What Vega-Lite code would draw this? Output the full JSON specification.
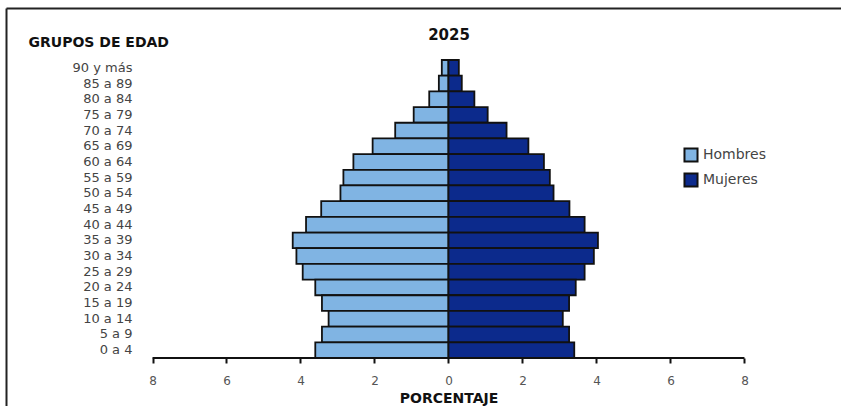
{
  "$schema": "https://vega.github.io/schema/vega-lite/v6.json",
  "width": 835,
  "height": 398,
  "autosize": {"type": "none"},
  "padding": {"left": 6, "top": 8, "right": 0, "bottom": 0},
  "background": "white",
  "config": {"view": {"stroke": null}, "font": "DejaVu Sans"},
  "datasets": {
    "poblacion": [
      {"grupo": "90 y más", "sexo": "Hombres", "porcentaje": -0.18},
      {"grupo": "90 y más", "sexo": "Mujeres", "porcentaje": 0.28},
      {"grupo": "85 a 89", "sexo": "Hombres", "porcentaje": -0.26},
      {"grupo": "85 a 89", "sexo": "Mujeres", "porcentaje": 0.36},
      {"grupo": "80 a 84", "sexo": "Hombres", "porcentaje": -0.52},
      {"grupo": "80 a 84", "sexo": "Mujeres", "porcentaje": 0.7},
      {"grupo": "75 a 79", "sexo": "Hombres", "porcentaje": -0.94},
      {"grupo": "75 a 79", "sexo": "Mujeres", "porcentaje": 1.06},
      {"grupo": "70 a 74", "sexo": "Hombres", "porcentaje": -1.44},
      {"grupo": "70 a 74", "sexo": "Mujeres", "porcentaje": 1.57},
      {"grupo": "65 a 69", "sexo": "Hombres", "porcentaje": -2.05},
      {"grupo": "65 a 69", "sexo": "Mujeres", "porcentaje": 2.16},
      {"grupo": "60 a 64", "sexo": "Hombres", "porcentaje": -2.57},
      {"grupo": "60 a 64", "sexo": "Mujeres", "porcentaje": 2.58},
      {"grupo": "55 a 59", "sexo": "Hombres", "porcentaje": -2.84},
      {"grupo": "55 a 59", "sexo": "Mujeres", "porcentaje": 2.74},
      {"grupo": "50 a 54", "sexo": "Hombres", "porcentaje": -2.92},
      {"grupo": "50 a 54", "sexo": "Mujeres", "porcentaje": 2.84},
      {"grupo": "45 a 49", "sexo": "Hombres", "porcentaje": -3.44},
      {"grupo": "45 a 49", "sexo": "Mujeres", "porcentaje": 3.27},
      {"grupo": "40 a 44", "sexo": "Hombres", "porcentaje": -3.85},
      {"grupo": "40 a 44", "sexo": "Mujeres", "porcentaje": 3.68},
      {"grupo": "35 a 39", "sexo": "Hombres", "porcentaje": -4.21},
      {"grupo": "35 a 39", "sexo": "Mujeres", "porcentaje": 4.04},
      {"grupo": "30 a 34", "sexo": "Hombres", "porcentaje": -4.11},
      {"grupo": "30 a 34", "sexo": "Mujeres", "porcentaje": 3.93},
      {"grupo": "25 a 29", "sexo": "Hombres", "porcentaje": -3.94},
      {"grupo": "25 a 29", "sexo": "Mujeres", "porcentaje": 3.68},
      {"grupo": "20 a 24", "sexo": "Hombres", "porcentaje": -3.6},
      {"grupo": "20 a 24", "sexo": "Mujeres", "porcentaje": 3.44},
      {"grupo": "15 a 19", "sexo": "Hombres", "porcentaje": -3.42},
      {"grupo": "15 a 19", "sexo": "Mujeres", "porcentaje": 3.26},
      {"grupo": "10 a 14", "sexo": "Hombres", "porcentaje": -3.24},
      {"grupo": "10 a 14", "sexo": "Mujeres", "porcentaje": 3.09},
      {"grupo": "5 a 9", "sexo": "Hombres", "porcentaje": -3.42},
      {"grupo": "5 a 9", "sexo": "Mujeres", "porcentaje": 3.26},
      {"grupo": "0 a 4", "sexo": "Hombres", "porcentaje": -3.6},
      {"grupo": "0 a 4", "sexo": "Mujeres", "porcentaje": 3.4}
    ],
    "eje": [{"desde": -8, "hasta": 8, "grupo": "0 a 4"}]
  },
  "resolve": {
    "scale": {"y": "independent"},
    "axis": {"x": "independent", "y": "independent"}
  },
  "layer": [
    {
      "data": {"name": "poblacion"},
      "mark": {"type": "bar", "stroke": "#111111", "strokeWidth": 1.8},
      "encoding": {
        "y": {
          "field": "grupo",
          "type": "nominal",
          "scale": {
            "domain": ["90 y más", "85 a 89", "80 a 84", "75 a 79", "70 a 74", "65 a 69", "60 a 64", "55 a 59", "50 a 54", "45 a 49", "40 a 44", "35 a 39", "30 a 34", "25 a 29", "20 a 24", "15 a 19", "10 a 14", "5 a 9", "0 a 4"],
            "range": [52, 350],
            "paddingInner": 0,
            "paddingOuter": 0
          },
          "axis": {
            "orient": "left",
            "offset": -129,
            "domain": false,
            "ticks": false,
            "grid": false,
            "labelPadding": 3,
            "labelFontSize": 13,
            "labelColor": "#444444",
            "title": "GRUPOS DE EDAD",
            "titleAngle": 0,
            "titleX": -107,
            "titleY": 34,
            "titleAlign": "left",
            "titleBaseline": "middle",
            "titleFontSize": 14,
            "titleFontWeight": "bold",
            "titleColor": "#111111"
          }
        },
        "x": {
          "field": "porcentaje",
          "type": "quantitative",
          "scale": {"domain": [-11.96, 10.61], "nice": false, "zero": false},
          "axis": {
            "orient": "bottom",
            "offset": -48,
            "domain": false,
            "grid": false,
            "values": [-8, -6, -4, -2, 0, 2, 4, 6, 8],
            "labelExpr": "abs(datum.value)",
            "labelOverlap": false,
            "labelFlush": false,
            "tickColor": "#111111",
            "tickWidth": 2,
            "tickSize": 5,
            "labelPadding": 12,
            "labelFontSize": 12,
            "labelColor": "#555555",
            "title": "PORCENTAJE",
            "titleX": 442.5,
            "titleY": 40,
            "titleAlign": "center",
            "titleBaseline": "middle",
            "titleFontSize": 14,
            "titleFontWeight": "bold",
            "titleColor": "#111111"
          }
        },
        "x2": {"datum": 0},
        "color": {
          "field": "sexo",
          "type": "nominal",
          "scale": {"domain": ["Hombres", "Mujeres"], "range": ["#80b4e3", "#0c2a8c"]},
          "legend": {
            "orient": "none",
            "legendX": 677,
            "legendY": 139,
            "title": null,
            "padding": 0,
            "symbolType": "square",
            "symbolSize": 170,
            "symbolStrokeColor": "#111111",
            "symbolStrokeWidth": 2,
            "symbolOpacity": 1,
            "labelFontSize": 14,
            "labelColor": "#444444",
            "labelOffset": 4,
            "rowPadding": 3
          }
        }
      }
    },
    {
      "data": {"name": "eje"},
      "mark": {"type": "rule", "stroke": "#111111", "strokeWidth": 2},
      "encoding": {
        "x": {
          "field": "desde",
          "type": "quantitative",
          "scale": {"domain": [-11.96, 10.61], "nice": false, "zero": false},
          "axis": {
            "orient": "top",
            "domain": true,
            "domainColor": "#222222",
            "domainWidth": 2,
            "ticks": false,
            "labels": false,
            "grid": false,
            "title": "2025",
            "titleX": 442.5,
            "titleY": 26,
            "titleAlign": "center",
            "titleBaseline": "middle",
            "titleFontSize": 15,
            "titleFontWeight": "bold",
            "titleColor": "#111111"
          }
        },
        "x2": {"field": "hasta"},
        "y": {
          "field": "grupo",
          "type": "nominal",
          "bandPosition": 1,
          "scale": {
            "domain": ["90 y más", "85 a 89", "80 a 84", "75 a 79", "70 a 74", "65 a 69", "60 a 64", "55 a 59", "50 a 54", "45 a 49", "40 a 44", "35 a 39", "30 a 34", "25 a 29", "20 a 24", "15 a 19", "10 a 14", "5 a 9", "0 a 4"],
            "range": [52, 350],
            "paddingInner": 0,
            "paddingOuter": 0
          },
          "axis": null
        }
      }
    },
    {
      "data": {"values": []},
      "mark": {"type": "rule"},
      "encoding": {
        "y": {
          "field": "marco",
          "type": "quantitative",
          "scale": {"domain": [0, 1]},
          "axis": {
            "orient": "left",
            "domain": true,
            "domainColor": "#222222",
            "domainWidth": 2,
            "ticks": false,
            "labels": false,
            "grid": false,
            "title": null
          }
        }
      }
    }
  ]
}
